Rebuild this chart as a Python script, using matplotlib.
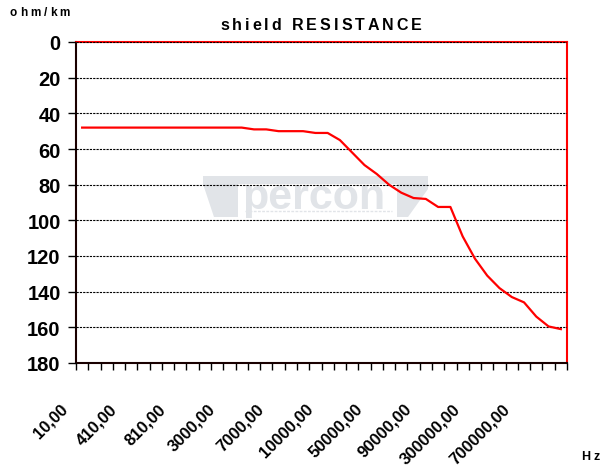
import matplotlib
matplotlib.use("Agg")
import matplotlib.pyplot as plt
from matplotlib import transforms
from matplotlib.font_manager import findfont, FontProperties
from matplotlib.ft2font import FT2Font
from matplotlib.patches import Polygon

W, H = 601, 477
FONT = "Liberation Sans"
RED = "#ff0000"
DARK = "#1a0000"
MARK = "#e1e4e8"

freq_labels = ["10,00", "110,00", "210,00", "310,00", "410,00", "510,00", "610,00",
               "710,00", "810,00", "910,00", "1000,00", "2000,00", "3000,00",
               "4000,00", "5000,00", "6000,00", "7000,00", "8000,00", "9000,00",
               "9500,00", "10000,00", "20000,00", "30000,00", "40000,00", "50000,00",
               "60000,00", "70000,00", "80000,00", "90000,00", "100000,00",
               "200000,00", "250000,00", "300000,00", "400000,00", "500000,00",
               "600000,00", "700000,00", "800000,00", "900000,00", "1000000,00"]
resistance = [48, 48, 48, 48, 48, 48, 48, 48, 48, 48, 48, 48, 48, 48,
              49, 49, 50, 50, 50, 51, 51,
              55, 62, 69, 74, 80, 84.5, 87.5, 88, 92.5, 92.5,
              109, 121.5, 131, 138, 143, 146, 154, 159.5, 161]
y_ticks = [0, 20, 40, 60, 80, 100, 120, 140, 160, 180]
label_every = 4


def px(x, y):
    return x / W, 1 - y / H


def spaced_text(fig, x, y, s, size, gap):
    # matplotlib has no letter spacing, so place the characters one by one
    font = FT2Font(findfont(FontProperties(family=FONT, weight="bold")))
    font.set_size(size, fig.dpi)
    for ch in s:
        fig.text(*px(x, y), ch, fontsize=size, fontweight="bold", family=FONT,
                 ha="left", va="baseline")
        x += font.load_char(ord(ch)).linearHoriAdvance / 65536 + gap


def centered_spaced(fig, xc, y, s, size, gap):
    font = FT2Font(findfont(FontProperties(family=FONT, weight="bold")))
    font.set_size(size, fig.dpi)
    total = sum(font.load_char(ord(c)).linearHoriAdvance / 65536 for c in s) + gap * (len(s) - 1)
    spaced_text(fig, xc - total / 2, y, s, size, gap)


fig = plt.figure(figsize=(W / 100, H / 100), dpi=100)
ax = fig.add_axes([76 / W, 1 - 364 / H, 491 / W, 321 / H])

x = list(range(len(resistance)))
ax.plot(x, resistance, color=RED, linewidth=1.6, zorder=3)

ax.set_xlim(-0.5, len(resistance) - 0.5)
ax.set_ylim(180, 0)
ax.set_yticks(y_ticks)
ax.set_yticklabels([str(v) for v in y_ticks], fontsize=14.5, fontweight="bold", family=FONT)
ax.tick_params(axis="y", direction="out", length=6, width=1, color="black", pad=5)
ax.set_xticks([])
ax.set_xticks([i - 0.5 for i in range(len(resistance) + 1)], minor=True)
ax.tick_params(axis="x", which="minor", direction="out", length=5, width=1, color="black")
ax.grid(axis="y", color="black", linestyle=(0, (2, 1)), linewidth=0.8, zorder=1)
ax.set_axisbelow(False)

for side in ("top", "right"):
    ax.spines[side].set_color(RED)
    ax.spines[side].set_linewidth(1.5)
for side in ("left", "bottom"):
    ax.spines[side].set_color(DARK)
    ax.spines[side].set_linewidth(1.5)

lab_trans = transforms.offset_copy(ax.get_xaxis_transform(), fig=fig, x=-17, y=-43, units="dots")
for i in range(0, len(freq_labels), label_every):
    ax.text(i, 0, freq_labels[i], transform=lab_trans, rotation=45, ha="right", va="center",
            rotation_mode="anchor", fontsize=12, fontweight="bold", family=FONT, clip_on=False)

# faint company watermark behind the line
tf = fig.transFigure
ax.add_patch(Polygon([px(203, 177), px(428, 177), px(428, 185), px(203, 185)],
                     closed=True, transform=tf, facecolor=MARK, edgecolor="none", zorder=0.5))
ax.add_patch(Polygon([px(203, 185), px(238, 185), px(238, 218), px(214, 218)],
                     closed=True, transform=tf, facecolor=MARK, edgecolor="none", zorder=0.5))
ax.add_patch(Polygon([px(397, 185), px(428, 185), px(428, 190), px(408, 218), px(397, 218)],
                     closed=True, transform=tf, facecolor=MARK, edgecolor="none", zorder=0.5))
ax.plot([px(245, 212)[0], px(392, 212)[0]], [px(245, 212)[1], px(392, 212)[1]], transform=tf,
        color=MARK, linewidth=1, linestyle=(0, (2, 1)), zorder=0.5)
ax.text(*px(242, 209), "percon", transform=tf, fontsize=31, fontweight="bold", family=FONT,
        color=MARK, ha="left", va="baseline", zorder=0.5)

centered_spaced(fig, 321, 30.5, "shield RESISTANCE", 11.5, 3)
spaced_text(fig, 10, 16, "ohm/km", 8.5, 3)
spaced_text(fig, 581, 460, "Hz", 9, 3)

fig.savefig("out.png", dpi=100, facecolor="white")
